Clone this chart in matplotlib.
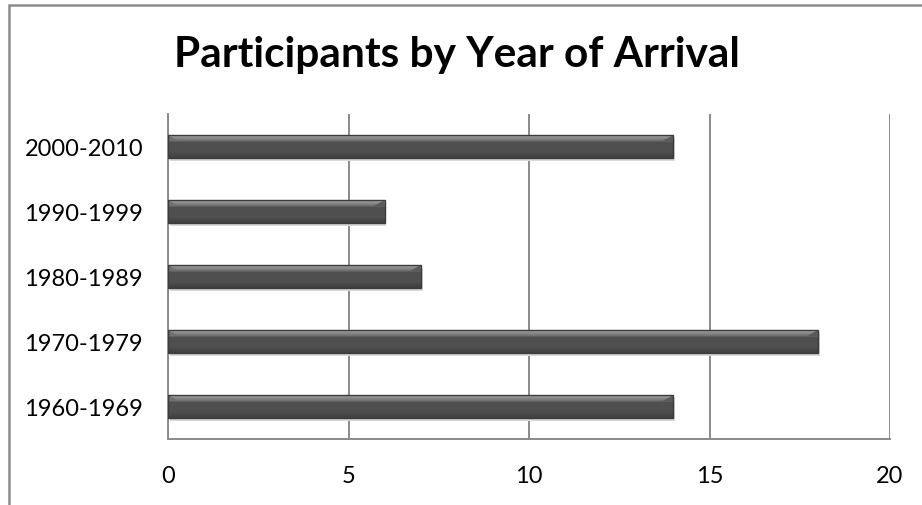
import matplotlib.pyplot as plt
import numpy as np
from matplotlib.patches import Rectangle, Polygon

plt.rcParams['font.family'] = ['Lato', 'DejaVu Sans']

periods = ['1960-1969', '1970-1979', '1980-1989', '1990-1999', '2000-2010']
counts = [14, 18, 7, 6, 14]
xticks = [0, 5, 10, 15, 20]

W, H = 922, 506
fig = plt.figure(figsize=(W / 100, H / 100), dpi=100)
ax = fig.add_axes([168 / W, 1 - 440 / H, (890 - 168) / W, (440 - 115) / H])

# outer chart frame (cropped on the right and bottom)
fig.patches.append(Rectangle((8.5 / W, -0.5), 2, 1.5 - 5.5 / H, transform=fig.transFigure,
                             fill=False, edgecolor='#8c8c8c', linewidth=1.8))

ax.set_xlim(0, 20)
ax.set_ylim(-0.5, len(periods) - 0.5)

bh = 0.35
# vertical gradient for the bevel look: light top, dark body, darker bottom
g = np.concatenate([np.linspace(0.64, 0.42, 8), np.full(14, 0.31), np.linspace(0.29, 0.25, 6)])
grad = np.stack([g, g, g], axis=1)[:, None, :]

for i, v in enumerate(counts):
    y0, y1 = i - bh / 2, i + bh / 2
    # soft shadow
    ax.add_patch(Rectangle((0.05, y0 - 0.05), v, bh, facecolor='#d9d9d9', edgecolor='none', zorder=2))
    ax.imshow(grad, extent=(0, v, y0, y1), aspect='auto', origin='upper',
              interpolation='bilinear', zorder=3)
    # beveled corners
    d = 0.3
    ax.add_patch(Polygon([(0, y1), (d, y1 - 0.09), (0, y1 - 0.09)], closed=True,
                         facecolor='#707070', edgecolor='none', zorder=4))
    ax.add_patch(Polygon([(v, y1), (v - d, y1 - 0.09), (v, y1 - 0.09)], closed=True,
                         facecolor='#5a5a5a', edgecolor='none', zorder=4))
    ax.add_patch(Rectangle((0, y0), v, bh, fill=False, edgecolor='#3c3c3c', linewidth=1.0, zorder=5))

ax.set_xticks(xticks)
ax.set_xticklabels([str(t) for t in xticks])
ax.set_yticks(range(len(periods)))
ax.set_yticklabels(periods)
ax.tick_params(axis='both', length=0, labelsize=17, colors='black')
ax.tick_params(axis='x', pad=19)
ax.tick_params(axis='y', pad=18)

ax.grid(axis='x', color='#8a8a8a', linewidth=1.4, zorder=1)
ax.set_axisbelow(True)
for s in ['top', 'right']:
    ax.spines[s].set_visible(False)
for s in ['left', 'bottom']:
    ax.spines[s].set_color('#8a8a8a')
    ax.spines[s].set_linewidth(1.4)

fig.text(457 / W, 1 - 55 / H, 'Participants by Year of Arrival', ha='center', va='center',
         fontsize=30.5, fontweight='bold')

fig.savefig('out.png', dpi=100)
